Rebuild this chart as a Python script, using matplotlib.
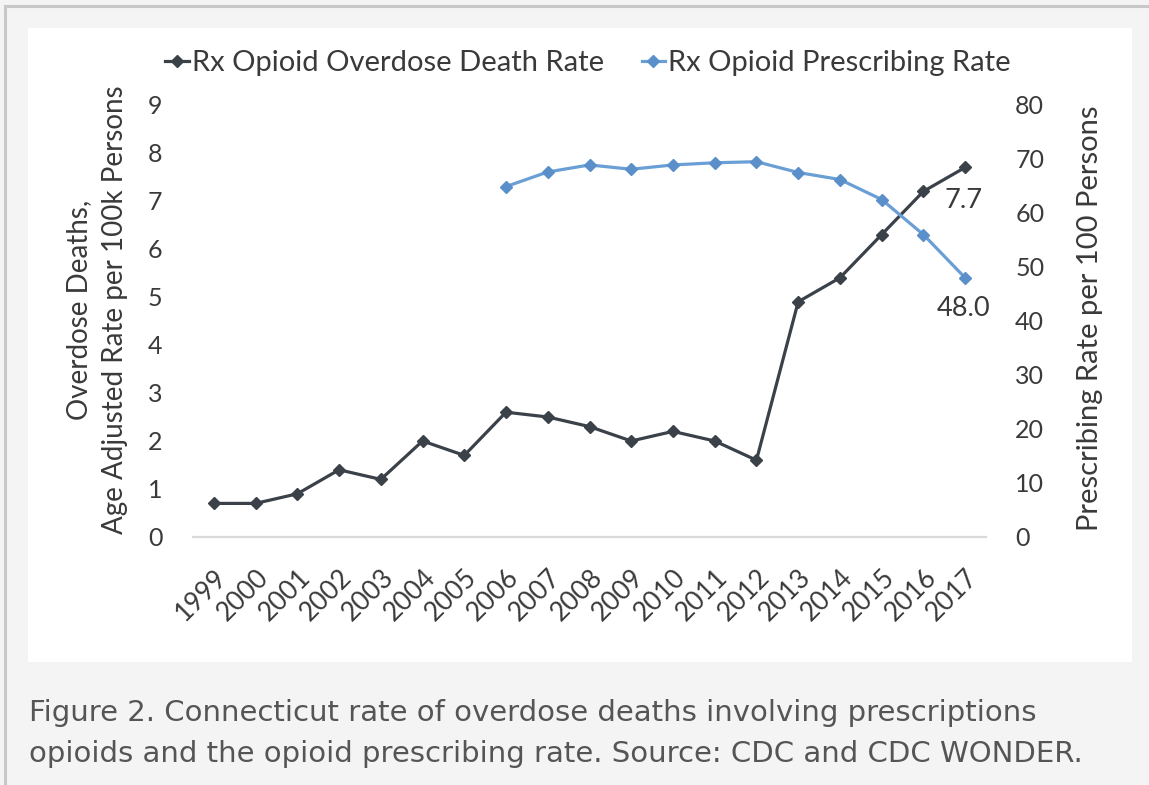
import matplotlib
matplotlib.use("Agg")
import matplotlib.pyplot as plt
from matplotlib.patches import Rectangle
from matplotlib.lines import Line2D

years = ["1999", "2000", "2001", "2002", "2003", "2004", "2005", "2006", "2007", "2008",
         "2009", "2010", "2011", "2012", "2013", "2014", "2015", "2016", "2017"]
death_rate = [0.7, 0.7, 0.9, 1.4, 1.2, 2.0, 1.7, 2.6, 2.5, 2.3,
              2.0, 2.2, 2.0, 1.6, 4.9, 5.4, 6.3, 7.2, 7.7]
presc_years = ["2006", "2007", "2008", "2009", "2010", "2011", "2012", "2013", "2014", "2015", "2016", "2017"]
presc_rate = [64.9, 67.6, 68.9, 68.1, 68.9, 69.3, 69.5, 67.5, 66.2, 62.5, 56.0, 48.0]
left_ticks = [0, 1, 2, 3, 4, 5, 6, 7, 8, 9]
right_ticks = [0, 10, 20, 30, 40, 50, 60, 70, 80]

W, H = 1149, 785
FONT = "Lato"
TXT = "#3a3a3a"
DARK = "#3b4148"
BLUE = "#6a9fd6"
BLUE_M = "#5a8fca"

fig = plt.figure(figsize=(W / 100, H / 100), dpi=100, facecolor="#f4f4f4")

def fx(px):
    return px / W

def fy(py):
    return 1 - py / H

# white panel and outer border
fig.patches.append(Rectangle((fx(28), fy(662)), fx(1132) - fx(28), fy(28) - fy(662),
                             transform=fig.transFigure, facecolor="white", edgecolor="none", zorder=-10))
fig.lines.append(Line2D([fx(5), fx(5)], [fy(6), 0], transform=fig.transFigure, color="#c8c8c8", lw=2.2, zorder=-10))
fig.lines.append(Line2D([fx(5), 1], [fy(6), fy(6)], transform=fig.transFigure, color="#c8c8c8", lw=2.2, zorder=-10))

ax = fig.add_axes([fx(193), fy(537), fx(986) - fx(193), fy(105) - fy(537)])
ax.patch.set_visible(False)
ax2 = ax.twinx()
ax2.patch.set_visible(False)

x_all = list(range(len(years)))
x_presc = [years.index(y) for y in presc_years]

l1, = ax.plot(x_all, death_rate, color=DARK, lw=2.3, marker="D", markersize=6.5,
              markerfacecolor=DARK, markeredgecolor=DARK, zorder=3)
l2, = ax2.plot(x_presc, presc_rate, color=BLUE, lw=2.3, marker="D", markersize=6.5,
               markerfacecolor=BLUE_M, markeredgecolor=BLUE_M, zorder=3)

ax.set_xlim(-0.5, len(years) - 0.5)
ax.set_ylim(0, 9)
ax2.set_ylim(0, 80)
ax.set_yticks(left_ticks)
ax.set_yticklabels([str(t) for t in left_ticks])
ax2.set_yticks(right_ticks)
ax2.set_yticklabels([str(t) for t in right_ticks])
ax.set_xticks(x_all)
ax.set_xticklabels(years, rotation=45, ha="right", rotation_mode="anchor")

for a in (ax, ax2):
    for s in a.spines.values():
        s.set_visible(False)
ax.spines["bottom"].set_visible(True)
ax.spines["bottom"].set_color("#d9d9d9")
ax.spines["bottom"].set_linewidth(1.6)

ax.tick_params(axis="y", length=0, pad=22, labelsize=18, labelcolor=TXT)
ax2.tick_params(axis="y", length=0, pad=21, labelsize=18, labelcolor=TXT)
ax.tick_params(axis="x", length=0, pad=20, labelsize=19, labelcolor=TXT)
for lab in ax.get_yticklabels() + ax2.get_yticklabels() + ax.get_xticklabels():
    lab.set_fontfamily(FONT)

# data labels for last points
ax.annotate(f"{death_rate[-1]:.1f}", (x_all[-1], death_rate[-1]), xytext=(-1, -24),
            textcoords="offset points", ha="center", va="center", fontsize=19.5,
            family=FONT, color=TXT)
ax2.annotate(f"{presc_rate[-1]:.1f}", (x_presc[-1], presc_rate[-1]), xytext=(-1, -22),
             textcoords="offset points", ha="center", va="center", fontsize=19.5,
             family=FONT, color=TXT)

# axis titles
fig.text(fx(97), fy(310), "Overdose Deaths,\nAge Adjusted Rate per 100k Persons",
         rotation=90, ha="center", va="center", multialignment="center",
         fontsize=20, family=FONT, color=TXT, linespacing=1.45)
fig.text(fx(1090), fy(318), "Prescribing Rate per 100 Persons",
         rotation=90, ha="center", va="center", fontsize=21, family=FONT, color=TXT)

# legend
leg = fig.legend([l1, l2], ["Rx Opioid Overdose Death Rate", "Rx Opioid Prescribing Rate"],
                 loc="center", bbox_to_anchor=(fx(588), fy(63)), ncol=2, frameon=False,
                 handlelength=0.8, handletextpad=0.1, columnspacing=1.3,
                 prop={"family": FONT, "size": 21})
for t in leg.get_texts():
    t.set_color(TXT)

# caption
cap_kw = dict(ha="left", va="baseline", fontsize=21, family="DejaVu Sans", color="#555555")
fig.text(fx(29), fy(721), "Figure 2. Connecticut rate of overdose deaths involving prescriptions", **cap_kw)
fig.text(fx(29), fy(762), "opioids and the opioid prescribing rate. Source: CDC and CDC WONDER.", **cap_kw)

fig.savefig("out.png", dpi=100, facecolor=fig.get_facecolor())
